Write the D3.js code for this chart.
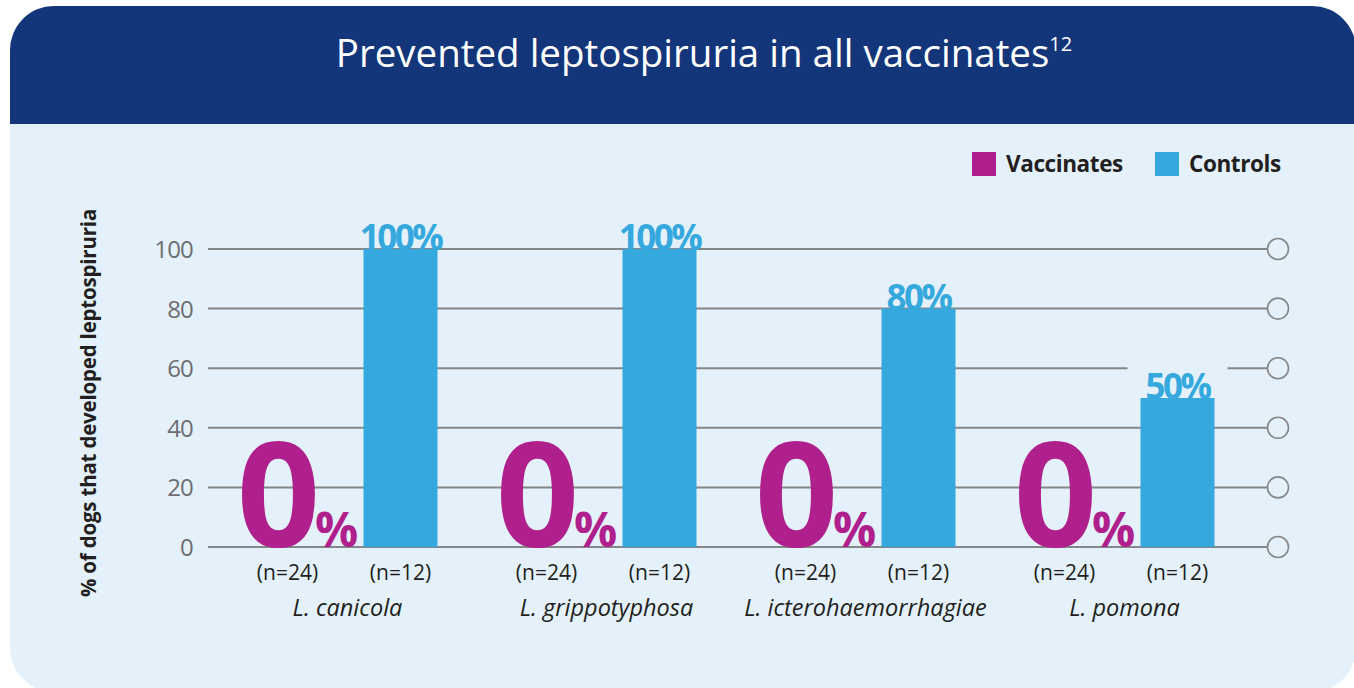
<!DOCTYPE html>
<html><head><meta charset="utf-8">
<script src="https://cdn.jsdelivr.net/npm/d3@7"></script>
<style>html,body{margin:0;padding:0;background:#fff;}svg{display:block;}</style>
</head><body>
<script>
const categories = ["L. canicola", "L. grippotyphosa", "L. icterohaemorrhagiae", "L. pomona"];
const vaccinates = [0, 0, 0, 0];
const controls = [100, 100, 80, 50];
const nVaccinates = ["(n=24)", "(n=24)", "(n=24)", "(n=24)"];
const nControls = ["(n=12)", "(n=12)", "(n=12)", "(n=12)"];
const yTicks = [0, 20, 40, 60, 80, 100];
const seriesNames = ["Vaccinates", "Controls"];
const title = "Prevented leptospiruria in all vaccinates";
const titleSup = "12";
const yTitle = "% of dogs that developed leptospiruria";

const W = 1354, H = 688;
const navy = "#13357a", panel = "#e4f1fa", magenta = "#b0208d", blue = "#35a8de", grid = "#858688";
const font = "'Open Sans', 'Noto Sans', sans-serif";

const svg = d3.select("body").append("svg").attr("width", W).attr("height", H);

// panel
const px0 = 10, py0 = 6, px1 = 1356, py1 = 692, r = 44;
svg.append("path").attr("fill", panel)
  .attr("d", `M${px0},${py0 + r} A${r},${r} 0 0 1 ${px0 + r},${py0} L${px1 - r},${py0} A${r},${r} 0 0 1 ${px1},${py0 + r} L${px1},${py1 - r} A${r},${r} 0 0 1 ${px1 - r},${py1} L${px0 + r},${py1} A${r},${r} 0 0 1 ${px0},${py1 - r} Z`);
// header
const hy = 124;
svg.append("path").attr("fill", navy)
  .attr("d", `M${px0},${hy} L${px0},${py0 + r} A${r},${r} 0 0 1 ${px0 + r},${py0} L${px1 - r},${py0} A${r},${r} 0 0 1 ${px1},${py0 + r} L${px1},${hy} Z`);

const t = svg.append("text").attr("x", 704).attr("y", 67).attr("text-anchor", "middle")
  .attr("fill", "#fff").attr("font-family", font).attr("font-size", 38.5).attr("letter-spacing", 0);
t.append("tspan").text(title);
t.append("tspan").attr("font-size", 20).attr("dy", -16).text(titleSup);

// scales
const y = d3.scaleLinear().domain([0, 100]).range([547, 249]);
const x = d3.scaleBand().domain(categories).range([271, 1307]).paddingInner(0).paddingOuter(0);
const barW = 74;
const barCenter = c => x(c) + x.bandwidth() / 2;
const vacCenter = c => barCenter(c) - 113;

// gridlines
const gx0 = 208, gx1 = 1267;
const gridG = svg.append("g");
gridG.selectAll("line").data(yTicks).join("line")
  .attr("x1", gx0).attr("x2", gx1).attr("y1", d => y(d)).attr("y2", d => y(d))
  .attr("stroke", grid).attr("stroke-width", 2);
gridG.selectAll("circle").data(yTicks).join("circle")
  .attr("cx", gx1 + 11).attr("cy", d => y(d)).attr("r", 10.5)
  .attr("fill", panel).attr("stroke", grid).attr("stroke-width", 1.6);

// y axis labels
const yAxis = d3.axisLeft(y).tickValues(yTicks).tickSize(0).tickPadding(0);
const ya = svg.append("g").attr("transform", "translate(193,0)").call(yAxis);
ya.select(".domain").remove();
ya.selectAll("text").attr("font-family", font).attr("font-size", 24).attr("letter-spacing", -0.8)
  .attr("fill", "#6d6e71").attr("dy", "0.35em");

svg.append("text").attr("transform", "translate(96,403) rotate(-90)").attr("text-anchor", "middle")
  .attr("font-family", font).attr("font-weight", "bold").attr("font-size", 20.5).attr("fill", "#231f20")
  .attr("letter-spacing", -0.2).text(yTitle);

// label knockouts
svg.selectAll("rect.ko").data(controls).join("rect").attr("class", "ko")
  .attr("x", (d, i) => barCenter(categories[i]) - 50).attr("width", 100)
  .attr("y", d => y(d) - 31).attr("height", 29).attr("fill", panel);

// control bars
svg.selectAll("rect.bar").data(controls).join("rect").attr("class", "bar")
  .attr("x", (d, i) => barCenter(categories[i]) - barW / 2).attr("width", barW)
  .attr("y", d => y(d)).attr("height", d => y(0) - y(d)).attr("fill", blue);

svg.selectAll("text.vl").data(controls).join("text").attr("class", "vl")
  .attr("x", (d, i) => barCenter(categories[i])).attr("y", d => y(d) + 1)
  .attr("text-anchor", "middle").attr("font-family", font).attr("font-weight", "bold")
  .attr("font-size", 35).attr("letter-spacing", -2.5).attr("fill", blue).text(d => d + "%");

// vaccinates: big 0%
const vg = svg.selectAll("text.zero").data(vaccinates).join("text").attr("class", "zero")
  .attr("x", (d, i) => vacCenter(categories[i]) + 10).attr("y", d => y(d))
  .attr("text-anchor", "middle").attr("font-family", font).attr("font-weight", "bold").attr("fill", magenta);
vg.append("tspan").attr("font-size", 146).attr("letter-spacing", -5).text(d => d);
vg.append("tspan").attr("font-size", 48).attr("letter-spacing", 0).text("%");

// n labels
svg.selectAll("text.nv").data(nVaccinates).join("text").attr("class", "nv")
  .attr("x", (d, i) => vacCenter(categories[i])).attr("y", 580)
  .attr("text-anchor", "middle").attr("font-family", font).attr("font-size", 21).attr("fill", "#231f20").text(d => d);
svg.selectAll("text.nc").data(nControls).join("text").attr("class", "nc")
  .attr("x", (d, i) => barCenter(categories[i])).attr("y", 580)
  .attr("text-anchor", "middle").attr("font-family", font).attr("font-size", 21).attr("fill", "#231f20").text(d => d);

// category labels
svg.selectAll("text.cat").data(categories).join("text").attr("class", "cat")
  .attr("x", c => barCenter(c) - 53).attr("y", 616)
  .attr("text-anchor", "middle").attr("font-family", font).attr("font-style", "italic").attr("font-size", 23.5)
  .attr("fill", "#231f20").text(d => d);

// legend
const legX = [972, 1155];
const colors = [magenta, blue];
const lg = svg.selectAll("g.leg").data(seriesNames).join("g").attr("class", "leg")
  .attr("transform", (d, i) => `translate(${legX[i]},152)`);
lg.append("rect").attr("width", 24).attr("height", 24).attr("fill", (d, i) => colors[i]);
lg.append("text").attr("x", 34).attr("y", 20).attr("font-family", font).attr("font-weight", "bold")
  .attr("font-size", 22.5).attr("fill", "#231f20").attr("letter-spacing", -0.4).text(d => d);
</script>
</body></html>
